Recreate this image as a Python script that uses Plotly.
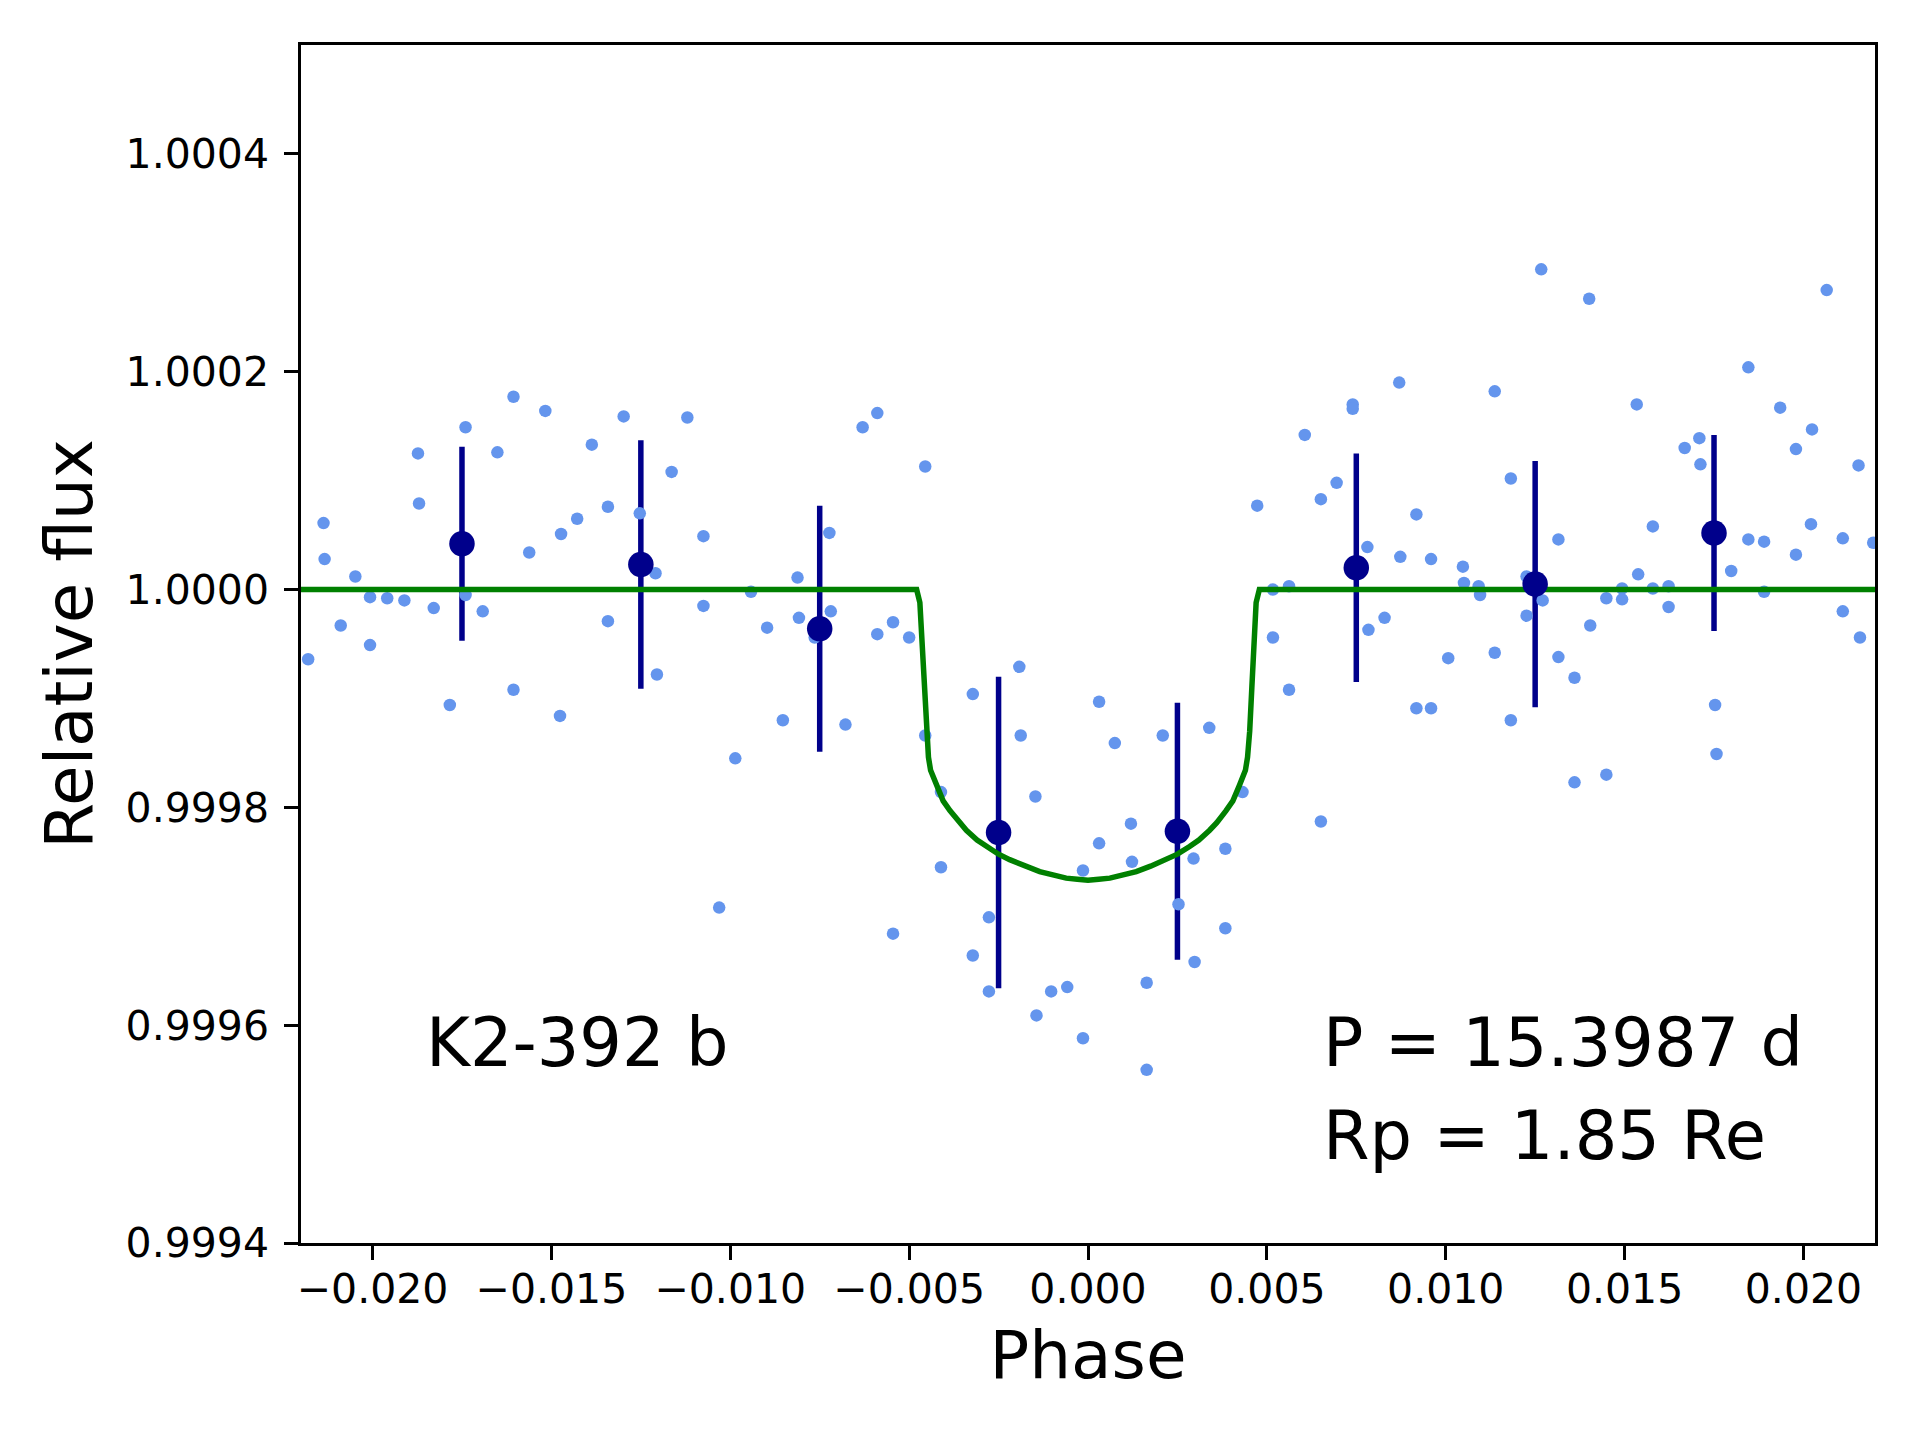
import plotly.graph_objects as go

# ---- data ----
phase_pts = [-0.0218, -0.02137, -0.02134, -0.02089, -0.02048, -0.02007, -0.02007, -0.01959, -0.01911, -0.01873,
             -0.01870, -0.01829, -0.01784, -0.01740, -0.01740, -0.01692, -0.01651, -0.01606, -0.01606, -0.01562,
             -0.01517, -0.01476, -0.01473, -0.01428, -0.01387, -0.01342, -0.01342, -0.01298, -0.01253, -0.01209,
             -0.01205, -0.01164, -0.01120, -0.01075, -0.01075, -0.01031, -0.00986, -0.00942, -0.00897, -0.00853,
             -0.00812, -0.00808, -0.00764, -0.00723, -0.00719, -0.00678, -0.00630, -0.00589, -0.00589, -0.00545,
             -0.00545, -0.00500, -0.00455, -0.00455, -0.00411, -0.00411, -0.00322, -0.00322, -0.00277, -0.00277,
             -0.00192, -0.00188, -0.00147, -0.00144, -0.00103, -0.00058, -0.00014, -0.00014, 0.00031, 0.00031,
             0.00075, 0.00120, 0.00123, 0.00164, 0.00164, 0.00209, 0.00253, 0.00295, 0.00298, 0.00339,
             0.00384, 0.00384, 0.00432, 0.00473, 0.00517, 0.00517, 0.00562, 0.00562, 0.00606, 0.00651,
             0.00651, 0.00695, 0.00740, 0.00740, 0.00781, 0.00784, 0.00829, 0.00870, 0.00873, 0.00918,
             0.00918, 0.00959, 0.00959, 0.01007, 0.01048, 0.01051, 0.01092, 0.01096, 0.01137, 0.01137,
             0.01182, 0.01182, 0.01226, 0.01226, 0.01267, 0.01271, 0.01315, 0.01315, 0.01360, 0.01360,
             0.01401, 0.01404, 0.01449, 0.01449, 0.01493, 0.01493, 0.01534, 0.01538, 0.01579, 0.01579,
             0.01623, 0.01623, 0.01668, 0.01709, 0.01712, 0.01753, 0.01757, 0.01798, 0.01846, 0.01846,
             0.01890, 0.01890, 0.01935, 0.01979, 0.01979, 0.02021, 0.02024, 0.02065, 0.02110, 0.02110,
             0.02154, 0.02158, 0.02195]
flux_pts = [0.999936, 1.000061, 1.000028, 0.999967, 1.000012, 0.999993, 0.999949, 0.999992, 0.999990, 1.000125,
            1.000079, 0.999983, 0.999894, 1.000149, 0.999995, 0.999980, 1.000126, 1.000177, 0.999908, 1.000034,
            1.000164, 0.999884, 1.000051, 1.000065, 1.000133, 1.000076, 0.999971, 1.000159, 1.000070, 1.000015,
            0.999922, 1.000108, 1.000158, 1.000049, 0.999985, 0.999708, 0.999845, 0.999998, 0.999965, 0.999880,
            1.000011, 0.999974, 0.999956, 1.000052, 0.999980, 0.999876, 1.000149, 1.000162, 0.999959, 0.999970,
            0.999684, 0.999956, 1.000113, 0.999866, 0.999814, 0.999745, 0.999904, 0.999664, 0.999699, 0.999631,
            0.999929, 0.999866, 0.999810, 0.999609, 0.999631, 0.999635, 0.999742, 0.999588, 0.999897, 0.999767,
            0.999859, 0.999785, 0.999750, 0.999639, 0.999559, 0.999866, 0.999711, 0.999753, 0.999658, 0.999873,
            0.999762, 0.999689, 0.999814, 1.000077, 1.000000, 0.999956, 1.000003, 0.999908, 1.000142, 1.000083,
            0.999787, 1.000098, 1.000170, 1.000166, 1.000039, 0.999963, 0.999974, 1.000190, 1.000030, 1.000069,
            0.999891, 1.000028, 0.999891, 0.999937, 1.000021, 1.000006, 1.000003, 0.999995, 1.000182, 0.999942,
            1.000102, 0.999880, 1.000012, 0.999976, 1.000294, 0.999990, 1.000046, 0.999938, 0.999919, 0.999823,
            1.000267, 0.999967, 0.999992, 0.999830, 1.000001, 0.999991, 1.000170, 1.000014, 1.000058, 1.000001,
            1.000003, 0.999984, 1.000130, 1.000139, 1.000115, 0.999894, 0.999849, 1.000017, 1.000204, 1.000046,
            1.000044, 0.999998, 1.000167, 1.000129, 1.000032, 1.000060, 1.000147, 1.000275, 1.000047, 0.999980,
            1.000114, 0.999956, 1.000043]

bin_phase = [-0.0175, -0.0125, -0.0075, -0.0025, 0.0025, 0.0075, 0.0125, 0.0175]
bin_flux = [1.000042, 1.000023, 0.999964, 0.999777, 0.999778, 1.000020, 1.000005, 1.000052]
bin_err = [0.000089, 0.000114, 0.000113, 0.000143, 0.000118, 0.000105, 0.000113, 0.000090]

model_phase = [-0.022, -0.00479, -0.00470, -0.00464, -0.00458, -0.00452, -0.00446, -0.00440, -0.00423,
               -0.00405, -0.00386, -0.00360, -0.00340, -0.00310, -0.00284, -0.00250, -0.00219, -0.00175,
               -0.00135, -0.00098, -0.00061, -0.00030, 0.0,
               0.00030, 0.00061, 0.00098, 0.00135, 0.00175, 0.00219, 0.00250, 0.00284, 0.00310, 0.00340,
               0.00360, 0.00386, 0.00405, 0.00423, 0.00440, 0.00446, 0.00452, 0.00458, 0.00464, 0.00470,
               0.00479, 0.022]
model_flux = [1.0, 1.0, 0.999988, 0.999955, 0.999910, 0.999870, 0.999846, 0.999834, 0.999820,
              0.999806, 0.999797, 0.999786, 0.999779, 0.999770, 0.999764, 0.999757, 0.999752, 0.999746,
              0.999741, 0.999738, 0.999735, 0.999734, 0.999733,
              0.999734, 0.999735, 0.999738, 0.999741, 0.999746, 0.999752, 0.999757, 0.999764, 0.999770, 0.999779,
              0.999786, 0.999797, 0.999806, 0.999820, 0.999834, 0.999846, 0.999870, 0.999910, 0.999955, 0.999988,
              1.0, 1.0]

x_ticks = [-0.020, -0.015, -0.010, -0.005, 0.000, 0.005, 0.010, 0.015, 0.020]
x_tick_text = ["\u22120.020", "\u22120.015", "\u22120.010", "\u22120.005", "0.000", "0.005", "0.010", "0.015", "0.020"]
y_ticks = [0.9994, 0.9996, 0.9998, 1.0000, 1.0002, 1.0004]
y_tick_text = ["0.9994", "0.9996", "0.9998", "1.0000", "1.0002", "1.0004"]

FONT = "DejaVu Sans"

fig = go.Figure()
# error bars of the binned points (drawn beneath)
fig.add_trace(go.Scatter(x=bin_phase, y=bin_flux, mode="markers",
                         marker=dict(color="rgba(0,0,0,0)", size=25.5, line=dict(width=0)),
                         error_y=dict(type="data", array=bin_err, color="#00008B", thickness=5.5, width=0),
                         showlegend=False, hoverinfo="skip"))
# unbinned points
fig.add_trace(go.Scatter(x=phase_pts, y=flux_pts, mode="markers",
                         marker=dict(color="#6495ED", size=12.5, line=dict(width=0)),
                         showlegend=False))
# transit model
fig.add_trace(go.Scatter(x=model_phase, y=model_flux, mode="lines",
                         line=dict(color="#008000", width=5.5), showlegend=False))
# binned points
fig.add_trace(go.Scatter(x=bin_phase, y=bin_flux, mode="markers",
                         marker=dict(color="#00008B", size=25.5, line=dict(width=0)),
                         showlegend=False))

fig.add_annotation(x=-0.01855, y=0.999584, xref="x", yref="y", text="K2-392 b", showarrow=False,
                   xanchor="left", yanchor="middle", font=dict(family=FONT, size=67, color="black"))
fig.add_annotation(x=0.00650, y=0.999584, xref="x", yref="y", text="P = 15.3987 d", showarrow=False,
                   xanchor="left", yanchor="middle", font=dict(family=FONT, size=67, color="black"))
fig.add_annotation(x=0.00650, y=0.999498, xref="x", yref="y", text="Rp = 1.85 Re", showarrow=False,
                   xanchor="left", yanchor="middle", font=dict(family=FONT, size=67, color="black"))

axis_common = dict(showline=True, mirror=True, linecolor="black", linewidth=2.5,
                   ticks="outside", ticklen=14, tickwidth=2.5, tickcolor="black",
                   showgrid=False, zeroline=False,
                   tickfont=dict(family=FONT, size=41, color="black"))

fig.update_layout(
    width=1912, height=1432,
    margin=dict(l=293, r=45, t=37, b=197),
    paper_bgcolor="white", plot_bgcolor="white",
    xaxis=dict(range=[-0.022, 0.022], tickvals=x_ticks, ticktext=x_tick_text, ticklabelstandoff=-6,
               title=dict(text="Phase", font=dict(family=FONT, size=66, color="black"), standoff=20),
               **axis_common),
    yaxis=dict(range=[0.9994, 1.0005], tickvals=y_ticks, ticktext=y_tick_text, ticklabelstandoff=7,
               title=dict(text="Relative flux", font=dict(family=FONT, size=66, color="black"), standoff=12),
               **axis_common),
)

fig.write_html("out.html")
